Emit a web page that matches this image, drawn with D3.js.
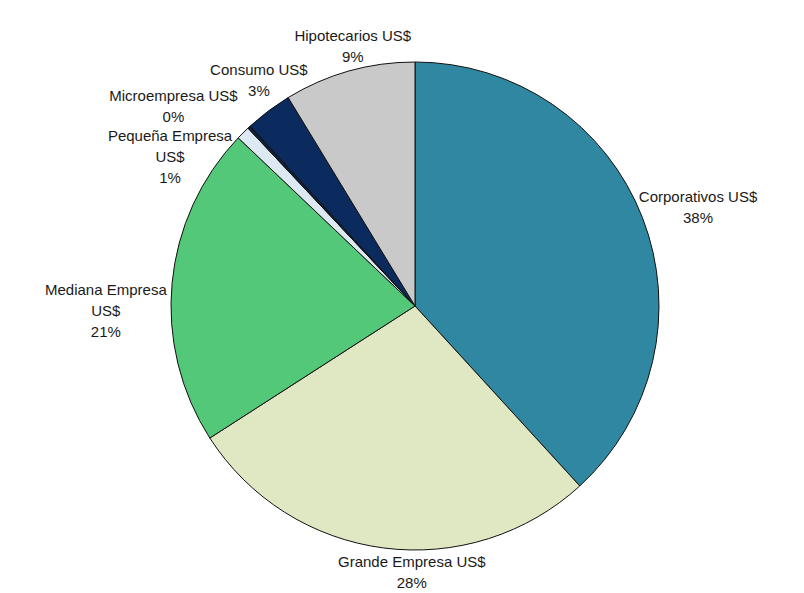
<!DOCTYPE html>
<html>
<head>
<meta charset="utf-8">
<script src="https://cdn.jsdelivr.net/npm/d3@7"></script>
<style>
 body{margin:0;background:#fff;}
 text{font-family:"Liberation Sans",Arial,sans-serif;font-size:15px;fill:#1a1a1a;}
</style>
</head>
<body>
<svg id="chart" width="804" height="593"></svg>
<script>
// categories clockwise from 12 o'clock, with line breaks as in the labels
const categories=["Corporativos US$","Grande Empresa US$","Mediana Empresa\nUS$","Pequeña Empresa\nUS$","Microempresa US$","Consumo US$","Hipotecarios US$"];
const shares=[38.2,27.7,21.2,0.9,0.2,3.1,8.7];
const colors=["#2f87a1","#dfe8c3","#52c878","#dde9f2","#0d1f3c","#0b2a5e","#c9c9c9"];
// label nudges (dx,dy) after outside-end placement
const nudges=[[-7,-1],[39,-3],[3,31],[-23,50],[-26,-1],[25,-9],[22,1]];

const svg=d3.select("#chart");
const width=804,height=593,radius=244,center=[415,306];
const g=svg.append("g").attr("transform",`translate(${center})`);

const pie=d3.pie().sort(null).value(d=>d.value);
const arc=d3.arc().innerRadius(0).outerRadius(radius);
const data=pie(categories.map((name,i)=>({name,value:shares[i],color:colors[i]})));
const percent=d3.format(".0f");

g.selectAll("path.slice").data(data).join("path")
 .attr("class","slice")
 .attr("d",arc)
 .attr("fill",d=>d.data.color)
 .attr("stroke","#111")
 .attr("stroke-width",1);

const labels=g.selectAll("text.label").data(data).join("text")
 .attr("class","label")
 .attr("text-anchor","middle");
labels.each(function(d){
 const lines=[...d.data.name.split("\n"),percent(d.data.value)+"%"];
 d3.select(this).selectAll("tspan").data(lines).join("tspan")
 .attr("x",0).attr("dy",(l,i)=>i?21:0).text(l=>l);
});
// outside end: push the box out along the bisector until it clears the rim
labels.attr("transform",function(d,i){
 const box=this.getBBox();
 const a=(d.startAngle+d.endAngle)/2;
 const s=Math.sin(a),c=-Math.cos(a);
 const p=[s*(radius+8),c*(radius+8)];
 const cx=p[0]+s*box.width/2+nudges[i][0];
 const cy=p[1]+c*box.height/2+nudges[i][1];
 return `translate(${cx-(box.x+box.width/2)},${cy-(box.y+box.height/2)})`;
});
</script>
</body>
</html>
